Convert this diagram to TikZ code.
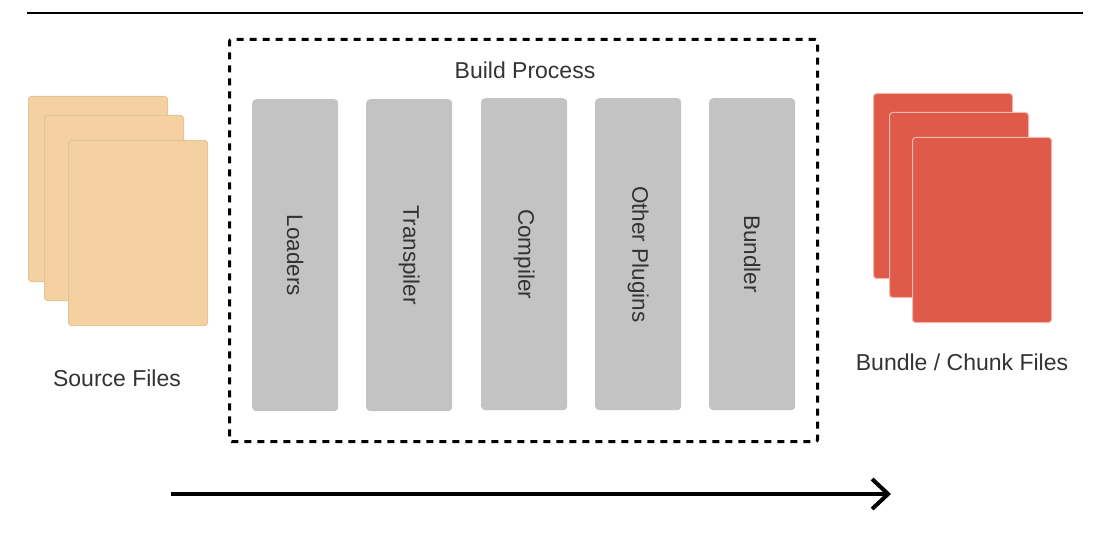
\documentclass[tikz,border=0pt]{standalone}
\usepackage{fontspec}
\setmainfont{Liberation Sans}
\usetikzlibrary{arrows.meta}
\definecolor{srcfill}{RGB}{245,208,160}
\definecolor{srcline}{RGB}{228,196,152}
\definecolor{outfill}{RGB}{224,90,73}
\definecolor{outline}{RGB}{240,185,175}
\definecolor{barfill}{RGB}{195,195,195}
\definecolor{txt}{RGB}{51,51,51}
\tikzset{
  page/.style={anchor=north west, minimum width=139pt, minimum height=185pt, inner sep=0pt, rounded corners=3pt, line width=1pt},
  srcpage/.style={page, fill=srcfill, draw=srcline},
  outpage/.style={page, fill=outfill, draw=outline},
  stagebar/.style={anchor=north west, minimum width=86pt, minimum height=312pt, inner sep=0pt, rounded corners=4pt, fill=barfill},
  stagetext/.style={rotate=-90, text=txt, font=\fontsize{22.5}{27}\selectfont},
  lbl/.style={text=txt, font=\fontsize{23}{27}\selectfont},
  groupbox/.style={draw=black, line width=3pt, dash pattern=on 7pt off 6pt, rounded corners=2pt},
  flow/.style={line width=4pt, -{Straight Barb[length=16pt, width=30pt, line width=4pt]}}
}
\begin{document}
\begin{tikzpicture}[x=1pt,y=-1pt]
\useasboundingbox (0,0) rectangle (1094,540);
% top rule
\coordinate (ruleL) at (27,13);
\coordinate (ruleR) at (1083,13);
\draw[line width=2pt] (ruleL) -- (ruleR);
% source files
\node[srcpage] (src1) at (28,96) {};
\node[srcpage] (src2) at (44,115) {};
\node[srcpage] (src3) at (68,140) {};
\node[lbl] (srclbl) at (117,378) {Source Files};
% build process box
\node[groupbox, anchor=north west, minimum width=588pt, minimum height=402pt, inner sep=0pt] (build) at (228,38) {};
\node[lbl] (buildlbl) at (525,70) {Build Process};
\node[stagebar] (b1) at (252,99) {};
\node[stagebar] (b2) at (366,99) {};
\node[stagebar] (b3) at (481,98) {};
\node[stagebar] (b4) at (595,98) {};
\node[stagebar] (b5) at (709,98) {};
\node[stagetext] at (b1.center) {Loaders};
\node[stagetext] at (b2.center) {Transpiler};
\node[stagetext] at (b3.center) {Compiler};
\node[stagetext] at (b4.center) {Other Plugins};
\node[stagetext] at (b5.center) {Bundler};
% output files
\node[outpage] (out1) at (873,93) {};
\node[outpage] (out2) at (889,112) {};
\node[outpage] (out3) at (912,137) {};
\node[lbl] (outlbl) at (962,362) {Bundle / Chunk Files};
% flow arrow
\coordinate (flowA) at (171,494);
\coordinate (flowB) at (891,494);
\draw[flow] (flowA) -- (flowB);
\end{tikzpicture}
\end{document}
